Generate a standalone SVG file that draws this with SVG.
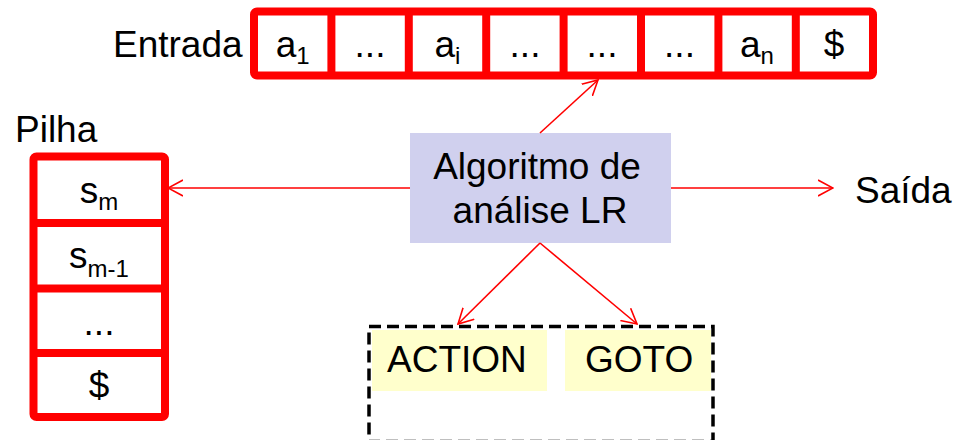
<svg xmlns="http://www.w3.org/2000/svg" width="955" height="440" viewBox="0 0 955 440">
<style>
text{font-family:"Liberation Sans",Arial,sans-serif;font-size:37px;fill:#000}
.sub{font-size:24px}
.red{fill:#fff;stroke:#FF0000;stroke-width:8}
.sep{stroke:#FF0000;stroke-width:8}
.conn{stroke:#FF0000;stroke-width:1.6;fill:none;marker-end:url(#ah)}
</style>
<defs>
<marker id="ah" markerUnits="userSpaceOnUse" viewBox="0 0 16 18" refX="15" refY="9" markerWidth="16" markerHeight="18" orient="auto">
<path d="M0,1 L15,9 L0,17" fill="none" stroke="#FF0000" stroke-width="1.6"/>
</marker>
</defs>
<rect width="955" height="440" fill="#fff"/>

<g id="entrada">
<text x="113" y="57">Entrada</text>
<rect class="red" x="254" y="11.5" width="619" height="64" rx="3"/>
<line class="sep" x1="331.4" y1="12" x2="331.4" y2="75"/>
<line class="sep" x1="408.8" y1="12" x2="408.8" y2="75"/>
<line class="sep" x1="486.2" y1="12" x2="486.2" y2="75"/>
<line class="sep" x1="563.6" y1="12" x2="563.6" y2="75"/>
<line class="sep" x1="641" y1="12" x2="641" y2="75"/>
<line class="sep" x1="718.4" y1="12" x2="718.4" y2="75"/>
<line class="sep" x1="795.8" y1="12" x2="795.8" y2="75"/>
<text x="292.7" y="57" text-anchor="middle">a<tspan class="sub" dy="7">1</tspan></text>
<text x="370" y="57" text-anchor="middle">...</text>
<text x="447.5" y="57" text-anchor="middle">a<tspan class="sub" dy="7">i</tspan></text>
<text x="525" y="57" text-anchor="middle">...</text>
<text x="602" y="57" text-anchor="middle">...</text>
<text x="679.5" y="57" text-anchor="middle">...</text>
<text x="757" y="57" text-anchor="middle">a<tspan class="sub" dy="7">n</tspan></text>
<text x="834" y="57" text-anchor="middle">$</text>
</g>

<g id="pilha">
<text x="15" y="142">Pilha</text>
<rect class="red" x="33.5" y="156.5" width="131.5" height="260.5" rx="3"/>
<line class="sep" x1="34" y1="223" x2="165" y2="223"/>
<line class="sep" x1="34" y1="288.5" x2="165" y2="288.5"/>
<line class="sep" x1="34" y1="353" x2="165" y2="353"/>
<text x="99" y="203" text-anchor="middle">s<tspan class="sub" dy="7">m</tspan></text>
<text x="99" y="268" text-anchor="middle">s<tspan class="sub" dy="9">m-1</tspan></text>
<text x="99" y="335" text-anchor="middle">...</text>
<text x="99" y="398" text-anchor="middle">$</text>
</g>

<g id="algoritmo">
<rect x="410" y="133" width="261" height="110" fill="#D0D0EE"/>
<text x="537" y="179" text-anchor="middle">Algoritmo de</text>
<text x="540" y="223" text-anchor="middle">análise LR</text>
</g>

<g id="saida">
<text x="855" y="203">Saída</text>
</g>

<g id="tabela">
<rect x="369" y="326.5" width="344" height="115" fill="none" stroke="#000" stroke-width="3.5" stroke-dasharray="12,6"/>
<rect x="372" y="330" width="175" height="61" fill="#FFFFCC"/>
<rect x="565" y="330" width="146" height="61" fill="#FFFFCC"/>
<text x="387" y="372">ACTION</text>
<text x="585" y="372">GOTO</text>
</g>

<g id="connectors">
<line class="conn" x1="540" y1="133" x2="598" y2="80"/>
<line class="conn" x1="410" y1="188" x2="168" y2="188"/>
<line class="conn" x1="671" y1="188" x2="833" y2="188"/>
<line class="conn" x1="540" y1="243" x2="458" y2="324"/>
<line class="conn" x1="540" y1="243" x2="637" y2="324"/>
</g>
</svg>
